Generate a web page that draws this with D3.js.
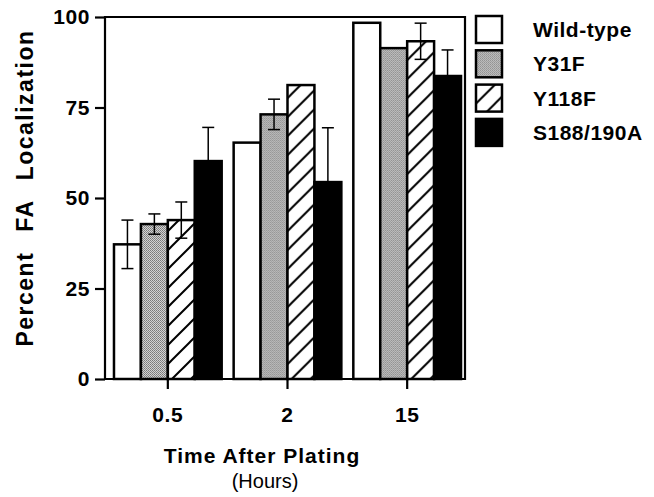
<!DOCTYPE html>
<html>
<head>
<meta charset="utf-8">
<script src="https://cdn.jsdelivr.net/npm/d3@7"></script>
<style>
  body { margin: 0; background: #fff; }
  text { font-family: "Liberation Sans", Arial, Helvetica, sans-serif; }
</style>
</head>
<body>
<div id="chart"></div>
<script>
// data
const times = ["0.5", "2", "15"];
const series = ["Wild-type", "Y31F", "Y118F", "S188/190A"];
const wildType = [37.2, 65.3, 98.4];
const y31f = [42.8, 73.1, 91.4];
const y118f = [43.9, 81.2, 93.3];
const s188 = [60.2, 54.4, 83.7];
const wildTypeErr = [6.7, 0, 0];
const y31fErr = [2.8, 4.2, 0];
const y118fErr = [5.0, 0, 5.0];
const s188Err = [9.3, 15.0, 7.2];
const yTicks = [0, 25, 50, 75, 100];

const values = [wildType, y31f, y118f, s188];
const errors = [wildTypeErr, y31fErr, y118fErr, s188Err];

const w = 654, h = 497;
const plotL = 105, plotR = 465, plotT = 17, plotB = 379;

const svg = d3.select("#chart").append("svg")
    .attr("width", w)
    .attr("height", h);

// patterns
const defs = svg.append("defs");

const stip = defs.append("pattern")
    .attr("id", "stipple")
    .attr("patternUnits", "userSpaceOnUse")
    .attr("width", 2).attr("height", 2);
stip.append("rect").attr("width", 2).attr("height", 2).attr("fill", "#d4d4d4");
stip.append("rect").attr("x", 0).attr("y", 0).attr("width", 1).attr("height", 1).attr("fill", "#777");
stip.append("rect").attr("x", 1).attr("y", 1).attr("width", 1).attr("height", 1).attr("fill", "#888");

const hs = 19;
const hatch = defs.append("pattern")
    .attr("id", "hatch")
    .attr("patternUnits", "userSpaceOnUse")
    .attr("width", hs).attr("height", hs);
hatch.append("rect").attr("width", hs).attr("height", hs).attr("fill", "#fff");
hatch.append("path")
    .attr("d", `M-2,${hs + 2}L${hs + 2},-2 M-4,4L4,-4 M${hs - 4},${hs + 4}L${hs + 4},${hs - 4}`)
    .attr("stroke", "#000")
    .attr("stroke-width", 2);

const fills = ["#fff", "url(#stipple)", "url(#hatch)", "#000"];

// scales
const x0 = d3.scaleBand()
    .domain(times)
    .range([108, 467])
    .paddingInner(0.1)
    .paddingOuter(0.05);

const x1 = d3.scaleBand()
    .domain(series)
    .range([0, x0.bandwidth()]);

const y = d3.scaleLinear()
    .domain([0, 100])
    .range([plotB, plotT]);

// bars
const groups = svg.append("g").selectAll("g")
    .data(times)
    .enter()
    .append("g")
    .attr("transform", d => "translate(" + x0(d) + ",0)");

groups.selectAll("rect")
    .data((t, gi) => series.map((s, si) => ({ s: s, si: si, v: values[si][gi], e: errors[si][gi] })))
    .enter()
    .append("rect")
    .attr("x", d => x1(d.s))
    .attr("y", d => y(d.v))
    .attr("width", x1.bandwidth())
    .attr("height", d => y(0) - y(d.v))
    .attr("fill", d => fills[d.si])
    .attr("stroke", "#000")
    .attr("stroke-width", 2.5);

// error bars
const cap = 6;
const eb = groups.selectAll("g.err")
    .data((t, gi) => series.map((s, si) => ({ s: s, v: values[si][gi], e: errors[si][gi] })).filter(d => d.e > 0))
    .enter()
    .append("g")
    .attr("class", "err")
    .attr("transform", d => "translate(" + (x1(d.s) + x1.bandwidth() / 2) + ",0)")
    .attr("stroke", "#000")
    .attr("stroke-width", 1.5);

eb.append("line").attr("x1", 0).attr("x2", 0)
    .attr("y1", d => y(d.v - d.e)).attr("y2", d => y(d.v + d.e));
eb.append("line").attr("x1", -cap).attr("x2", cap)
    .attr("y1", d => y(d.v + d.e)).attr("y2", d => y(d.v + d.e));
eb.append("line").attr("x1", -cap).attr("x2", cap)
    .attr("y1", d => y(d.v - d.e)).attr("y2", d => y(d.v - d.e));

// frame
svg.append("path")
    .attr("d", `M${plotL},${plotT}H${plotR}V${plotB}H${plotL}Z`)
    .attr("fill", "none")
    .attr("stroke", "#000")
    .attr("stroke-width", 2.2);

// axes
const yAxis = svg.append("g")
    .attr("transform", "translate(" + plotL + ",0)")
    .call(d3.axisLeft(y).tickValues(yTicks).tickSize(10).tickPadding(5));
yAxis.select(".domain").remove();
yAxis.selectAll("line").attr("stroke-width", 2.2);
yAxis.selectAll("text")
    .attr("font-size", 21)
    .attr("font-weight", "bold")
    .attr("letter-spacing", 0.6)
    .attr("font-family", "Liberation Sans, Arial, sans-serif");

const xAxis = svg.append("g")
    .attr("transform", "translate(0," + plotB + ")")
    .call(d3.axisBottom(x0).tickSize(10).tickSizeOuter(0).tickPadding(18));
xAxis.select(".domain").remove();
xAxis.selectAll("line").attr("stroke-width", 2.2);
xAxis.selectAll("text")
    .attr("font-size", 21)
    .attr("font-weight", "bold")
    .attr("letter-spacing", 0.6)
    .attr("font-family", "Liberation Sans, Arial, sans-serif");

// axis titles
svg.append("text")
    .attr("transform", "translate(33,188) rotate(-90)")
    .attr("text-anchor", "middle")
    .attr("font-size", 23)
    .attr("font-weight", "bold")
    .attr("letter-spacing", 1.5)
    .attr("word-spacing", 12)
    .text("Percent FA Localization");

svg.append("text")
    .attr("x", 262).attr("y", 463)
    .attr("text-anchor", "middle")
    .attr("font-size", 21)
    .attr("font-weight", "bold")
    .attr("letter-spacing", 1)
    .text("Time After Plating");

svg.append("text")
    .attr("x", 265).attr("y", 488)
    .attr("text-anchor", "middle")
    .attr("font-size", 20)
    .text("(Hours)");

// legend
const legend = svg.append("g").selectAll("g")
    .data(series)
    .enter()
    .append("g")
    .attr("transform", (d, i) => "translate(476," + (16 + i * 34.3) + ")");

legend.append("rect")
    .attr("width", 26)
    .attr("height", 27)
    .attr("fill", (d, i) => fills[i])
    .attr("stroke", "#000")
    .attr("stroke-width", 2.5);

legend.append("text")
    .attr("x", 57)
    .attr("y", 21)
    .attr("font-size", 21)
    .attr("font-weight", "bold")
    .attr("letter-spacing", 0.5)
    .text(d => d);
</script>
</body>
</html>
